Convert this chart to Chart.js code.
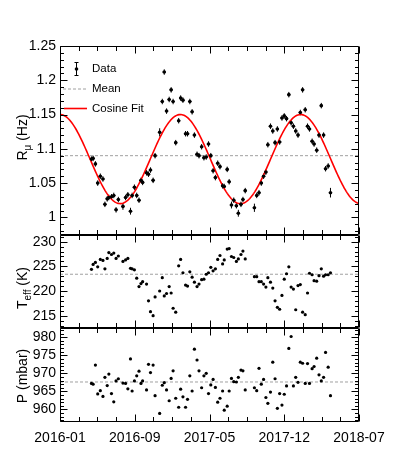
<!DOCTYPE html>
<html>
<head>
<meta charset="utf-8">
<script src="https://cdn.jsdelivr.net/npm/chart.js@4.4.1/dist/chart.umd.min.js"></script>
<style>
  html, body { margin: 0; padding: 0; background: #fff; }
  canvas { display: block; }
</style>
</head>
<body>
<canvas id="chartRate" width="399" height="469"></canvas>
<script>
// days since 2016-01-01, one entry per weekly run
const days = [
  96, 101, 108, 115, 123, 131, 137, 144, 149, 157,
  164, 171, 178, 192, 200, 207, 215, 220, 227, 234,
  241, 247, 252, 264, 270, 276, 284, 290, 304, 312,
  318, 325, 333, 339, 345, 353, 362, 368, 375, 383,
  389, 396, 403, 410, 418, 424, 432, 439, 446, 453,
  460, 467, 474, 481, 488, 496, 501, 510, 516, 523,
  530, 538, 544, 552, 558, 565, 593, 600, 607, 614,
  621, 628, 634, 642, 649, 656, 663, 670, 677, 684,
  691, 698, 705, 712, 719, 726, 733, 740, 748, 755,
  761, 769, 775, 783, 790, 797, 804, 810, 818, 825
];
// muon rate (Hz)
const rate = [
  1.085, 1.086, 1.078, 1.050, 1.060, 1.056, 1.019, 1.027, 1.029, 1.030,
  1.032, 1.011, 1.026, 1.016, 1.029, 1.033, 1.009, 1.032, 1.044, 1.032,
  1.025, 1.054, 1.051, 1.065, 1.063, 1.069, 1.054, 1.090, 1.124, 1.169,
  1.212, 1.155, 1.172, 1.186, 1.169, 1.109, 1.141, 1.174, 1.171, 1.122,
  1.122, 1.169, 1.154, 1.120, 1.092, 1.090, 1.103, 1.087, 1.088, 1.107,
  1.090, 1.068, 1.058, 1.079, 1.074, 1.046, 1.045, 1.070, 1.052, 1.018,
  1.025, 1.017, 1.006, 1.019, 1.026, 1.039, 1.014, 1.032, 1.036, 1.050,
  1.060, 1.066, 1.106, 1.133, 1.126, 1.109, 1.129, 1.110, 1.145, 1.148,
  1.144, 1.179, 1.138, 1.133, 1.126, 1.120, 1.153, 1.186, 1.157, 1.133,
  1.129, 1.111, 1.107, 1.098, 1.120, 1.163, 1.120, 1.071, 1.075, 1.036
];
const rateErr = [
  0.004, 0.004, 0.004, 0.004, 0.004, 0.004, 0.004, 0.004, 0.004, 0.004,
  0.004, 0.004, 0.004, 0.005, 0.004, 0.004, 0.005, 0.004, 0.004, 0.004,
  0.004, 0.004, 0.004, 0.004, 0.004, 0.004, 0.004, 0.004, 0.006, 0.004,
  0.004, 0.004, 0.004, 0.004, 0.004, 0.004, 0.004, 0.004, 0.004, 0.004,
  0.004, 0.004, 0.004, 0.004, 0.004, 0.004, 0.004, 0.004, 0.004, 0.004,
  0.004, 0.004, 0.004, 0.004, 0.004, 0.004, 0.004, 0.004, 0.004, 0.005,
  0.004, 0.004, 0.005, 0.004, 0.004, 0.004, 0.006, 0.004, 0.004, 0.004,
  0.004, 0.004, 0.004, 0.004, 0.004, 0.004, 0.004, 0.004, 0.004, 0.004,
  0.004, 0.004, 0.004, 0.004, 0.004, 0.004, 0.004, 0.004, 0.004, 0.004,
  0.004, 0.004, 0.004, 0.004, 0.004, 0.004, 0.004, 0.004, 0.004, 0.007
];
// effective temperature (K)
const tEff = [
  224.4, 225.4, 225.8, 224.9, 226.4, 226.2, 224.5, 226.6, 227.8, 227.4,
  227.7, 226.6, 227.1, 226.0, 226.3, 226.6, 224.6, 224.5, 224.3, 222.6,
  220.9, 221.5, 221.9, 221.4, 218.0, 215.8, 215.0, 218.8, 220.0, 222.7,
  219.0, 219.5, 220.9, 219.6, 216.5, 215.7, 225.1, 226.4, 223.7, 221.2,
  221.0, 223.9, 222.8, 221.8, 220.9, 221.4, 222.3, 222.4, 223.4, 223.7,
  224.8, 224.1, 224.5, 226.4, 227.2, 225.5, 226.3, 228.5, 228.6, 227.0,
  226.8, 226.0, 226.5, 227.4, 228.1, 226.5, 222.9, 222.9, 221.9, 221.9,
  221.4, 220.8, 222.7, 221.8, 220.6, 218.0, 216.7, 216.3, 219.1, 222.4,
  223.5, 224.9, 220.8, 220.4, 216.2, 221.1, 221.3, 215.7, 215.2, 219.6,
  223.6, 223.3, 222.1, 222.0, 223.1, 224.5, 223.0, 223.3, 223.3, 223.7
];
// pressure (mbar)
const pressure = [
  967.2, 967.0, 972.3, 964.3, 965.2, 963.6, 968.9, 966.6, 969.8, 964.4,
  962.1, 967.9, 968.5, 967.3, 967.2, 965.7, 974.0, 965.1, 967.9, 969.3,
  970.6, 967.2, 967.9, 965.4, 972.5, 970.2, 972.3, 963.8, 958.9, 966.7,
  967.4, 965.4, 962.4, 968.6, 970.7, 963.1, 960.6, 965.6, 963.5, 960.6,
  962.8, 969.3, 965.1, 976.7, 973.7, 970.7, 966.0, 969.3, 970.0, 964.4,
  966.8, 968.3, 966.1, 962.0, 963.1, 965.1, 959.8, 960.9, 965.1, 968.6,
  967.7, 967.6, 968.9, 970.9, 970.7, 965.4, 966.0, 965.2, 971.4, 967.0,
  968.3, 963.3, 961.7, 964.8, 973.1, 968.5, 960.3, 964.4, 961.2, 964.2,
  966.5, 976.9, 980.2, 966.5, 968.9, 967.5, 973.1, 972.8, 967.2, 972.7,
  967.2, 971.3, 971.9, 974.2, 969.6, 967.9, 968.9, 975.8, 971.7, 963.8
];

const rateMean = 1.09;
const tEffMean = 223.4;
const pressureMean = 967.6;

// cosine fit parameters
const fitOffset = 1.085;
const fitAmp = 0.065;
const fitPeriod = 367; // days
const fitPeak = 0;     // day of a maximum

const xTickDays = [0, 228, 456, 684, 912];
const xTickLabels = ["2016-01", "2016-09", "2017-05", "2017-12", "2018-07"];
const rateTicks = [1, 1.05, 1.1, 1.15, 1.2, 1.25];
const tEffTicks = [215, 220, 225, 230];
const pressureTicks = [960, 965, 970, 975, 980];

const FONT = '"Liberation Sans", Arial, Helvetica, sans-serif';

function pts(ys) {
  return days.map((d, i) => ({ x: d, y: ys[i] }));
}

const fitCurve = [];
for (let d = 0; d <= 912; d += 3) {
  fitCurve.push({ x: d, y: fitOffset + fitAmp * Math.cos(2 * Math.PI * (d - fitPeak) / fitPeriod) });
}

function meanLine(v) {
  return [{ x: 0, y: v }, { x: 912, y: v }];
}

function panelAxis(min, max, tickVals, weight) {
  return {
    type: "linear",
    position: "left",
    stack: "panels",
    stackWeight: weight,
    min: min,
    max: max,
    afterBuildTicks: (s) => { s.ticks = tickVals.map((v) => ({ value: v })); },
    afterFit: (s) => { s.width = 60; },
    ticks: {
      callback: (v) => String(v),
      font: { family: FONT, size: 14 },
      color: "#000",
      padding: 4,
      autoSkip: false,
    },
    grid: { display: false, drawTicks: false },
    border: { display: false },
  };
}

// error bars on the rate points
const errorBars = {
  id: "errorBars",
  beforeDatasetsDraw(chart) {
    const ctx = chart.ctx;
    const x = chart.scales.x, y = chart.scales.yR;
    ctx.save();
    ctx.strokeStyle = "#000";
    ctx.lineWidth = 1;
    ctx.beginPath();
    days.forEach((d, i) => {
      const px = x.getPixelForValue(d);
      ctx.moveTo(px, y.getPixelForValue(rate[i] - rateErr[i]));
      ctx.lineTo(px, y.getPixelForValue(rate[i] + rateErr[i]));
      const py = y.getPixelForValue(rate[i]);
      ctx.moveTo(x.getPixelForValue(d - 5), py);
      ctx.lineTo(x.getPixelForValue(d + 5), py);
    });
    ctx.stroke();
    ctx.restore();
  },
};

// frames and inward ticks, ROOT style
const frameTicks = {
  id: "frameTicks",
  afterDraw(chart) {
    const ctx = chart.ctx, x = chart.scales.x, a = chart.chartArea;
    const panels = [
      { s: chart.scales.yR, step: 0.01, major: 5 },
      { s: chart.scales.yT, step: 1, major: 5 },
      { s: chart.scales.yP, step: 1, major: 5 },
    ];
    const L = Math.round(a.left) + 0.5, R = Math.round(a.right) - 0.5;
    ctx.save();
    ctx.strokeStyle = "#000";
    ctx.lineWidth = 1;
    panels.forEach((p) => {
      const s = p.s;
      const T = Math.round(s.top) + 0.5, B = Math.round(s.bottom) - 0.5;
      ctx.beginPath();
      ctx.rect(L, T, R - L, B - T);
      for (let d = 0; d <= 912; d += 57) {
        const px = Math.round(x.getPixelForValue(d)) + 0.5;
        const len = d % 228 === 0 ? 7 : 4.5;
        ctx.moveTo(px, T); ctx.lineTo(px, T + len);
        ctx.moveTo(px, B); ctx.lineTo(px, B - len);
      }
      const k0 = Math.ceil(s.min / p.step - 1e-6);
      for (let k = k0; k * p.step <= s.max + 1e-9; k++) {
        const py = Math.round(s.getPixelForValue(k * p.step)) + 0.5;
        const len = k % p.major === 0 ? 7 : 3.5;
        ctx.moveTo(L, py); ctx.lineTo(L + len, py);
        ctx.moveTo(R, py); ctx.lineTo(R - len, py);
      }
      ctx.stroke();
    });
    ctx.restore();
  },
};

function drawTitle(ctx, cx, cy, parts) {
  ctx.save();
  ctx.translate(cx, cy);
  ctx.rotate(-Math.PI / 2);
  ctx.fillStyle = "#000";
  ctx.textBaseline = "alphabetic";
  ctx.textAlign = "left";
  let w = 0;
  parts.forEach((p) => {
    ctx.font = (p.sub ? "10px " : "14px ") + FONT;
    p.w = ctx.measureText(p.t).width;
    w += p.w;
  });
  let xx = -w / 2;
  parts.forEach((p) => {
    ctx.font = (p.sub ? "10px " : "14px ") + FONT;
    ctx.fillText(p.t, xx, p.sub ? 3.5 : 0);
    xx += p.w;
  });
  ctx.restore();
}

const axisTitles = {
  id: "axisTitles",
  afterDraw(chart) {
    const ctx = chart.ctx;
    drawTitle(ctx, 27, 137.5, [{ t: "R" }, { t: "μ", sub: true }, { t: " (Hz)" }]);
    drawTitle(ctx, 27, 288, [{ t: "T" }, { t: "eff", sub: true }, { t: " (K)" }]);
    drawTitle(ctx, 27, 376, [{ t: "P (mbar)" }]);
  },
};

const legendBox = {
  id: "legendBox",
  afterDraw(chart) {
    const ctx = chart.ctx, a = chart.chartArea;
    const sx = a.left + 16, tx = a.left + 32;
    const rows = [a.top + 23, a.top + 42.5, a.top + 62.5];
    ctx.save();
    ctx.strokeStyle = "#000";
    ctx.lineWidth = 1;
    ctx.beginPath();
    ctx.moveTo(sx + 0.5, rows[0] - 7); ctx.lineTo(sx + 0.5, rows[0] + 7);
    ctx.moveTo(sx - 1.5, rows[0] - 7 + 0.5); ctx.lineTo(sx + 2.5, rows[0] - 7 + 0.5);
    ctx.moveTo(sx - 1.5, rows[0] + 7 - 0.5); ctx.lineTo(sx + 2.5, rows[0] + 7 - 0.5);
    ctx.stroke();
    ctx.fillStyle = "#000";
    ctx.beginPath();
    ctx.arc(sx + 0.5, rows[0], 1.8, 0, 2 * Math.PI);
    ctx.fill();
    ctx.strokeStyle = "#a0a0a0";
    ctx.setLineDash([3, 2]);
    ctx.beginPath();
    ctx.moveTo(a.left + 3, rows[1] + 0.5); ctx.lineTo(a.left + 28, rows[1] + 0.5);
    ctx.stroke();
    ctx.setLineDash([]);
    ctx.strokeStyle = "#ff0000";
    ctx.lineWidth = 1.6;
    ctx.beginPath();
    ctx.moveTo(a.left + 4, rows[2]); ctx.lineTo(a.left + 27, rows[2]);
    ctx.stroke();
    ctx.fillStyle = "#000";
    ctx.font = "11.5px " + FONT;
    ctx.textBaseline = "middle";
    ctx.fillText("Data", tx, rows[0]);
    ctx.fillText("Mean", tx, rows[1]);
    ctx.fillText("Cosine Fit", tx, rows[2]);
    ctx.restore();
  },
};

new Chart(document.getElementById("chartRate"), {
  type: "scatter",
  data: {
    datasets: [
      {
        label: "Data",
        data: pts(rate),
        yAxisID: "yR",
        pointRadius: 1.8,
        pointBorderWidth: 0,
        pointBackgroundColor: "#000",
      },
      {
        label: "Cosine Fit",
        data: fitCurve,
        yAxisID: "yR",
        showLine: true,
        pointRadius: 0,
        borderColor: "#ff0000",
        borderWidth: 1.6,
      },
      {
        label: "Mean",
        data: meanLine(rateMean),
        yAxisID: "yR",
        showLine: true,
        pointRadius: 0,
        borderColor: "#a0a0a0",
        borderWidth: 1,
        borderDash: [3, 2],
      },
      {
        label: "Teff",
        data: pts(tEff),
        yAxisID: "yT",
        pointRadius: 1.6,
        pointBorderWidth: 0,
        pointBackgroundColor: "#000",
      },
      {
        label: "Teff mean",
        data: meanLine(tEffMean),
        yAxisID: "yT",
        showLine: true,
        pointRadius: 0,
        borderColor: "#a0a0a0",
        borderWidth: 1,
        borderDash: [3, 2],
      },
      {
        label: "P",
        data: pts(pressure),
        yAxisID: "yP",
        pointRadius: 1.6,
        pointBorderWidth: 0,
        pointBackgroundColor: "#000",
      },
      {
        label: "P mean",
        data: meanLine(pressureMean),
        yAxisID: "yP",
        showLine: true,
        pointRadius: 0,
        borderColor: "#a0a0a0",
        borderWidth: 1,
        borderDash: [3, 2],
      },
    ],
  },
  options: {
    responsive: false,
    animation: false,
    devicePixelRatio: 1,
    layout: { padding: { top: 46, right: 40, left: 0, bottom: 0 } },
    scales: {
      x: {
        type: "linear",
        min: 0,
        max: 912,
        afterBuildTicks: (s) => { s.ticks = xTickDays.map((v) => ({ value: v })); },
        afterFit: (s) => { s.height = 47.3; },
        ticks: {
          callback: (v) => xTickLabels[xTickDays.indexOf(v)],
          font: { family: FONT, size: 14 },
          color: "#000",
          padding: 8,
          maxRotation: 0,
          autoSkip: false,
        },
        grid: { display: false, drawTicks: false },
        border: { display: false },
      },
      yP: panelAxis(956.6, 982.7, pressureTicks, 94.2),
      yT: panelAxis(212.6, 231.46, tEffTicks, 93),
      yR: panelAxis(0.975, 1.25, rateTicks, 188.5),
    },
    plugins: {
      legend: { display: false },
      tooltip: { enabled: false },
    },
  },
  plugins: [errorBars, frameTicks, axisTitles, legendBox],
});
</script>
</body>
</html>
